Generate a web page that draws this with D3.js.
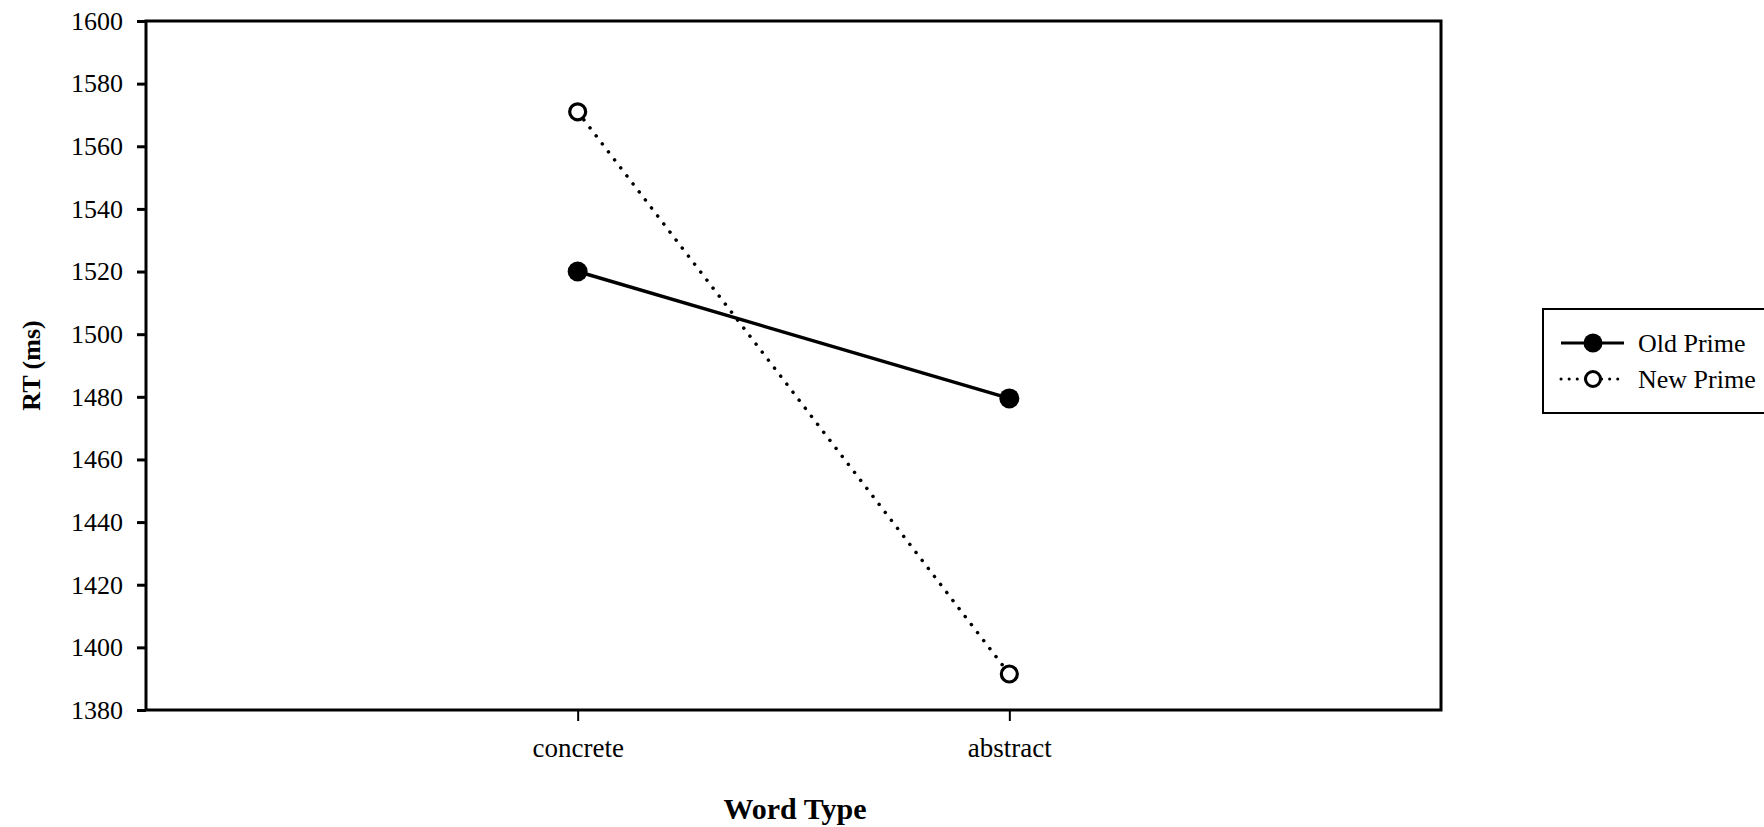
<!DOCTYPE html>
<html>
<head>
<meta charset="utf-8">
<script src="https://cdn.jsdelivr.net/npm/d3@7"></script>
<style>
  body { margin: 0; background: #fff; }
  svg { display: block; font-family: "Liberation Serif", "Times New Roman", serif; }
</style>
</head>
<body>
<div id="chart"></div>
<script>
// word types on the x axis
var categories = ["concrete", "abstract"];
// mean RT (ms) for each prime condition
var oldPrime = [1520, 1479.5];
var newPrime = [1571, 1391.5];
var yTicks = [1380, 1400, 1420, 1440, 1460, 1480, 1500, 1520, 1540, 1560, 1580, 1600];
var seriesNames = ["Old Prime", "New Prime"];

var width = 1764;
var height = 827;
var plot = {left: 146, top: 21, right: 1441, bottom: 710};
var serif = '"Liberation Serif", "Times New Roman", serif';

var svg = d3.select("#chart").append("svg")
  .attr("width", width)
  .attr("height", height);

/* Scale */
var xScale = d3.scalePoint()
  .domain(categories)
  .range([plot.left, plot.right])
  .padding(1);

var yScale = d3.scaleLinear()
  .domain([1380, 1600])
  .range([plot.bottom, plot.top]);

/* frame */
svg.append("rect")
  .attr("x", plot.left)
  .attr("y", plot.top)
  .attr("width", plot.right - plot.left)
  .attr("height", plot.bottom - plot.top)
  .attr("fill", "none")
  .attr("stroke", "#000")
  .attr("stroke-width", 3);

/* axes */
var yAxis = d3.axisLeft(yScale)
  .tickValues(yTicks)
  .tickFormat(d3.format("d"))
  .tickSize(9)
  .tickPadding(14);
var gy = svg.append("g")
  .attr("transform", `translate(${plot.left},0)`)
  .call(yAxis)
  .attr("font-family", serif)
  .attr("font-size", 26);
gy.select(".domain").remove();
gy.selectAll(".tick line").attr("stroke", "#000").attr("stroke-width", 3);
gy.selectAll(".tick text").attr("fill", "#000");

var xAxis = d3.axisBottom(xScale).tickSize(11).tickPadding(0);
var gx = svg.append("g")
  .attr("transform", `translate(0,${plot.bottom})`)
  .call(xAxis)
  .attr("font-family", serif)
  .attr("font-size", 27);
gx.select(".domain").remove();
gx.selectAll(".tick line").attr("stroke", "#000").attr("stroke-width", 2);
gx.selectAll(".tick text")
  .attr("fill", "#000")
  .attr("y", 47)
  .attr("dy", 0);

/* axis titles */
svg.append("text")
  .attr("x", 795)
  .attr("y", 819)
  .attr("text-anchor", "middle")
  .style("font-size", "30px")
  .style("font-weight", "bold")
  .text("Word Type");

svg.append("text")
  .attr("transform", `translate(40,${(plot.top + plot.bottom) / 2}) rotate(-90)`)
  .attr("text-anchor", "middle")
  .style("font-size", "26px")
  .style("font-weight", "bold")
  .text("RT (ms)");

/* lines */
var line = d3.line()
  .x((d, i) => xScale(categories[i]))
  .y(d => yScale(d));

svg.append("path")
  .attr("d", line(newPrime))
  .attr("fill", "none")
  .attr("stroke", "#000")
  .attr("stroke-width", 3.5)
  .attr("stroke-linecap", "round")
  .attr("stroke-dasharray", "0.1 10");

svg.append("path")
  .attr("d", line(oldPrime))
  .attr("fill", "none")
  .attr("stroke", "#000")
  .attr("stroke-width", 3.5);

svg.selectAll(".old-pt")
  .data(oldPrime).enter()
  .append("circle")
  .attr("class", "old-pt")
  .attr("cx", (d, i) => xScale(categories[i]))
  .attr("cy", d => yScale(d))
  .attr("r", 10)
  .attr("fill", "#000");

svg.selectAll(".new-pt")
  .data(newPrime).enter()
  .append("circle")
  .attr("class", "new-pt")
  .attr("cx", (d, i) => xScale(categories[i]))
  .attr("cy", d => yScale(d))
  .attr("r", 8)
  .attr("fill", "#fff")
  .attr("stroke", "#000")
  .attr("stroke-width", 3.2);

/* legend */
var legend = svg.append("g");
legend.append("rect")
  .attr("x", 1543)
  .attr("y", 309)
  .attr("width", 240)
  .attr("height", 104)
  .attr("fill", "#fff")
  .attr("stroke", "#000")
  .attr("stroke-width", 2);

var rows = legend.selectAll(".row")
  .data(seriesNames).enter()
  .append("g")
  .attr("class", "row")
  .attr("transform", (d, i) => `translate(0,${343 + i * 36})`);

rows.append("line")
  .attr("x1", 1561)
  .attr("x2", 1624)
  .attr("stroke", "#000")
  .attr("stroke-width", 3)
  .attr("stroke-linecap", (d, i) => i == 0 ? "butt" : "round")
  .attr("stroke-dasharray", (d, i) => i == 0 ? null : "0.1 8");

rows.append("circle")
  .attr("cx", 1593)
  .attr("r", (d, i) => i == 0 ? 9.5 : 7.5)
  .attr("fill", (d, i) => i == 0 ? "#000" : "#fff")
  .attr("stroke", "#000")
  .attr("stroke-width", (d, i) => i == 0 ? 0 : 3);

rows.append("text")
  .attr("x", 1638)
  .attr("y", 9)
  .style("font-size", "26px")
  .text(d => d);
</script>
</body>
</html>
